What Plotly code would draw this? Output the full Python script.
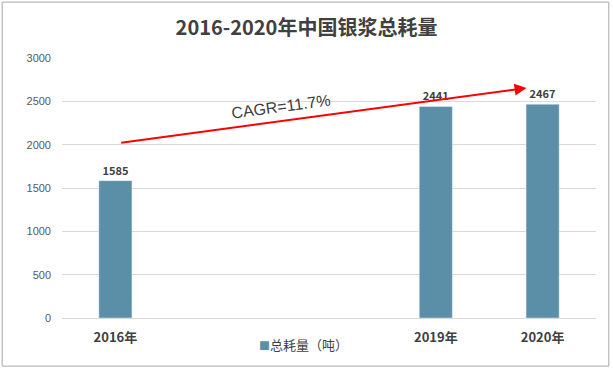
import plotly.graph_objects as go

categories = ["2016年", "2017年", "2018年", "2019年", "2020年"]
values = [1585, None, None, 2441, 2467]
tick_labels = ["2016年", "", "", "2019年", "2020年"]
series_name = "总耗量（吨）"
title = "2016-2020年中国银浆总耗量"
cagr_text = "CAGR=11.7%"

FONT = "Noto Sans CJK SC, Noto Sans, sans-serif"
BAR_COLOR = "#5b8fa8"

fig = go.Figure()
fig.add_trace(go.Bar(
    x=categories, y=values, name=series_name,
    marker_color=BAR_COLOR, width=0.31,
    text=[f"<b>{v}</b>" if v is not None else "" for v in values],
    textposition="outside", textfont=dict(size=11, color="#404040", family=FONT),
    cliponaxis=False, showlegend=False,
))

fig.update_layout(
    width=613, height=370,
    margin=dict(l=62, r=17, t=58, b=52),
    paper_bgcolor="white", plot_bgcolor="white",
    title=dict(text=f"<b>{title}</b>", x=0.5, xanchor="center", y=0.925, yanchor="middle",
               font=dict(size=20, color="#404040", family=FONT)),
    showlegend=False,
    bargap=0.7,
)
fig.update_xaxes(
    tickvals=categories, ticktext=[f"<b>{t}</b>" if t else "" for t in tick_labels],
    tickfont=dict(size=13, color="#404040", family=FONT),
    showline=True, linecolor="#d9d9d9", linewidth=1, ticks="", showgrid=False,
    ticklabelstandoff=7,
)
fig.update_yaxes(
    range=[0, 3000], dtick=500, showgrid=True, gridcolor="#d9d9d9", gridwidth=1,
    tickfont=dict(size=11, color="#595959", family="Liberation Sans, Arial"),
    zeroline=False, ticks="", ticklabelstandoff=10,
)

# legend (drawn as text key)
fig.add_annotation(x=0.452, y=-0.1, xref="paper", yref="paper", showarrow=False,
                   text=f"<span style='color:{BAR_COLOR};font-size:11px'>■</span>{series_name}",
                   font=dict(size=13, color="#404040", family=FONT), xanchor="center", yanchor="middle")

# CAGR arrow
fig.add_annotation(x=3.85, y=2654, ax=0.04, ay=2019, xref="x", yref="y", axref="x", ayref="y",
                   showarrow=True, arrowhead=2, arrowsize=1.2, arrowwidth=2, arrowcolor="#ff0000", text="")
fig.add_annotation(x=1.55, y=2440, xref="x", yref="y", text=cagr_text, showarrow=False,
                   textangle=-7.7, font=dict(size=16, color="#404040", family="Liberation Sans, Arial"))

# outer border
fig.add_shape(type="rect", xref="paper", yref="paper", x0=-0.112, x1=1.024, y0=-0.185, y1=1.215,
              line=dict(color="#a6a6a6", width=1), fillcolor="rgba(0,0,0,0)", layer="below")

fig.write_html("out.html", config={"displayModeBar": False},
               post_script="document.body.style.margin='0';")
